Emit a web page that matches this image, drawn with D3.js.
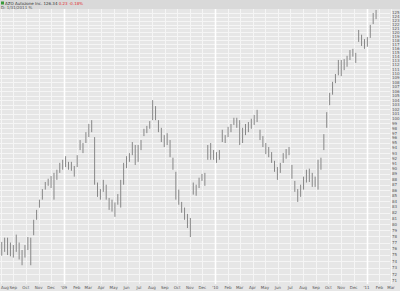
<!DOCTYPE html>
<html>
<head>
<meta charset="utf-8">
<script src="https://cdn.jsdelivr.net/npm/d3@7"></script>
<style>
  body { margin: 0; background: #e6e6e6; }
  svg { display: block; font-family: "DejaVu Sans", sans-serif; }
</style>
</head>
<body>
<div id="chart"></div>
<script>
// weekly high / low, one per week starting Mon 4 Aug 2008
var first_week = new Date(2008, 7, 4)
var highs = [77.1, 77.8, 77.8, 77.0, 76.6, 78.3, 77.0, 75.8, 76.6, 77.9,
    77.8, 80.8, 82.5, 84.3, 86.2, 87.5, 88.1, 88.6, 89.2, 89.8,
    91.1, 91.7, 92.4, 91.3, 91.3, 90.5, 92.6, 95.6, 95.0, 97.2,
    98.9, 99.7, 96.2, 87.4, 86.2, 87.9, 87.0, 84.6, 84.3, 83.8,
    85.3, 87.9, 91.1, 92.4, 93.0, 95.2, 94.6, 94.6, 95.6, 97.9,
    98.5, 99.5, 104.0, 102.7, 99.7, 98.1, 96.6, 97.0, 95.6, 92.1,
    89.4, 86.1, 83.9, 82.9, 81.8, 81.1, 87.4, 87.0, 88.3, 89.0,
    89.2, 94.6, 95.0, 93.6, 93.2, 93.6, 97.7, 96.6, 98.3, 98.9,
    100.2, 100.2, 99.7, 98.1, 98.9, 99.3, 100.0, 100.8, 101.9, 97.7,
    96.4, 95.0, 94.2, 93.2, 91.5, 90.3, 91.1, 93.0, 93.8, 94.2,
    90.7, 87.7, 86.2, 87.0, 88.5, 89.8, 90.0, 89.2, 88.5, 91.7,
    92.1, 96.8, 101.4, 105.6, 108.1, 109.9, 113.2, 113.2, 113.4, 114.2,
    115.6, 115.9, 114.9, 120.6, 119.4, 118.3, 118.8, 121.9, 125.0, 125.8]
var lows = [74.9, 75.5, 75.0, 74.8, 74.6, 75.5, 74.3, 73.4, 74.6, 75.8,
    73.4, 78.2, 80.8, 82.9, 84.3, 86.1, 86.8, 86.4, 84.3, 87.9,
    89.2, 89.8, 90.3, 89.8, 89.6, 88.5, 90.3, 93.6, 93.0, 95.0,
    96.2, 97.2, 87.0, 84.8, 84.3, 85.7, 84.3, 82.5, 82.2, 81.3,
    83.4, 82.9, 87.0, 90.1, 91.3, 92.6, 90.7, 91.3, 93.6, 96.4,
    97.0, 97.9, 99.7, 99.7, 97.2, 95.2, 94.2, 94.6, 92.2, 89.8,
    84.3, 83.4, 82.0, 80.8, 79.4, 77.9, 85.2, 85.0, 86.4, 87.7,
    86.8, 91.7, 91.7, 91.7, 91.1, 91.7, 95.2, 95.0, 96.2, 97.2,
    98.7, 98.1, 94.6, 95.0, 96.6, 97.2, 97.9, 98.7, 99.3, 95.6,
    94.2, 92.8, 92.2, 91.1, 89.4, 87.9, 89.2, 91.1, 91.9, 92.6,
    88.1, 85.7, 83.9, 84.8, 86.1, 87.4, 87.5, 86.6, 86.6, 86.1,
    89.8, 93.6, 98.1, 102.9, 105.2, 107.8, 109.6, 109.4, 110.8, 111.6,
    113.2, 114.0, 112.5, 117.6, 116.6, 115.9, 116.4, 118.6, 122.1, 123.4]

var month_names = ["Jan", "Feb", "Mar", "Apr", "May", "Jun", "Jul", "Aug", "Sep", "Oct", "Nov", "Dec"]
var price_min = 71, price_max = 125

var width = 400, height = 291
var plot = {left: 0, right: 390, top: 9, bottom: 284}

var weeks = d3.timeMonday.every(1).range(first_week, d3.timeDay.offset(first_week, highs.length * 7))
var bars = weeks.map(function(d, i) {
    return {date: d, high: highs[i], low: lows[i]}
})

var x = d3.scaleTime()
    .domain([new Date(2008, 7, 1), new Date(2011, 2, 1)])
    .range([0.5, 391])

var y = d3.scaleLog()
    .domain([price_min, price_max])
    .range([281, 13])

var svg = d3.select("#chart")
    .append("svg")
    .attr("width", width)
    .attr("height", height)

svg.append("rect")
    .attr("width", width)
    .attr("height", height)
    .attr("fill", "#e6e6e6")

// header band
svg.append("rect")
    .attr("width", width)
    .attr("height", plot.top)
    .attr("fill", "#d9d9d9")

// horizontal grid, one line per dollar
var price_ticks = d3.range(price_min, price_max + 1)
svg.append("g")
    .selectAll("line")
    .data(price_ticks)
    .enter()
    .append("line")
    .attr("x1", plot.left)
    .attr("x2", plot.right)
    .attr("y1", function(d) { return Math.round(y(d)) + 0.5 })
    .attr("y2", function(d) { return Math.round(y(d)) + 0.5 })
    .attr("stroke", "#f5f5f5")
    .attr("stroke-width", 1)

// vertical grid at month starts, years brighter
var months = d3.timeMonth.range(new Date(2008, 7, 1), new Date(2011, 2, 2))
svg.append("g")
    .selectAll("line")
    .data(months)
    .enter()
    .append("line")
    .attr("x1", function(d) { return Math.round(x(d)) + 0.5 })
    .attr("x2", function(d) { return Math.round(x(d)) + 0.5 })
    .attr("y1", plot.top)
    .attr("y2", plot.bottom)
    .attr("stroke", function(d) { return d.getMonth() == 0 ? "#ffffff" : "#f5f5f5" })
    .attr("stroke-width", function(d) { return d.getMonth() == 0 ? 1.6 : 1 })

// price bars, thin high-low strokes
svg.append("g")
    .selectAll("line")
    .data(bars)
    .enter()
    .append("line")
    .attr("x1", function(d) { return x(d.date) })
    .attr("x2", function(d) { return x(d.date) })
    .attr("y1", function(d) { return y(d.high) })
    .attr("y2", function(d) { return y(d.low) })
    .attr("stroke", "#7c7c7c")
    .attr("stroke-width", 0.9)

// right price axis
svg.append("g")
    .selectAll("text")
    .data(price_ticks)
    .enter()
    .append("text")
    .attr("x", 392)
    .attr("y", function(d) { return y(d) })
    .attr("dy", "0.35em")
    .attr("font-size", "4px")
    .attr("fill", "#555")
    .text(function(d) { return d })

// bottom month labels
svg.append("g")
    .selectAll("text")
    .data(months)
    .enter()
    .append("text")
    .attr("x", function(d, i) { return i == 0 ? 1 : x(d) })
    .attr("y", 289)
    .attr("text-anchor", function(d, i) { return i == 0 ? "start" : "middle" })
    .attr("font-size", "4px")
    .attr("fill", "#555")
    .text(function(d) {
        return d.getMonth() == 0 ? "'" + String(d.getFullYear()).slice(2) : month_names[d.getMonth()]
    })

// header text
var title = svg.append("text")
    .attr("x", 5)
    .attr("y", 4.5)
    .attr("font-size", "4px")
    .attr("fill", "#333")
title.append("tspan").text("AZO Autozone Inc.  126.34  ")
title.append("tspan").attr("fill", "#e03030").text("0.23  -0.18%")

svg.append("rect")
    .attr("x", 1)
    .attr("y", 1.5)
    .attr("width", 3)
    .attr("height", 3)
    .attr("fill", "#3a9a3a")

svg.append("text")
    .attr("x", 1)
    .attr("y", 8.5)
    .attr("font-size", "4px")
    .attr("fill", "#555")
    .text("D: 1/31/2011 %")
</script>
</body>
</html>
